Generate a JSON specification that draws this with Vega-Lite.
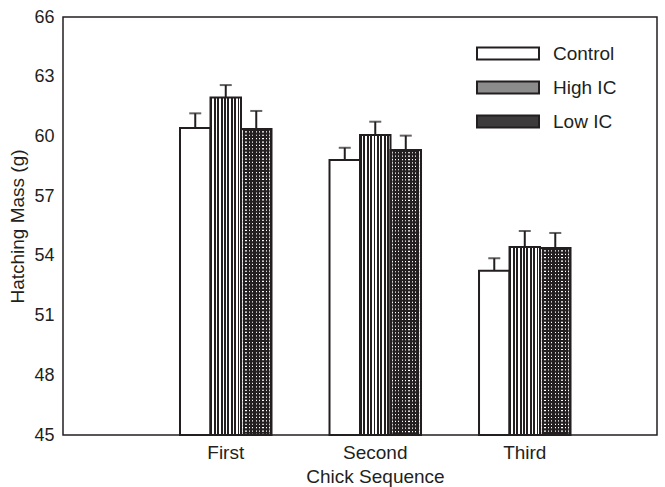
{
  "$schema": "https://vega.github.io/schema/vega-lite/v6.json",
  "width": 594,
  "height": 418,
  "autosize": {"type": "none"},
  "padding": {"left": 63, "top": 17, "right": 8, "bottom": 52},
  "background": "white",
  "config": {
    "font": "Liberation Sans",
    "view": {"stroke": "#231f20", "strokeWidth": 1.5},
    "axis": {
      "domain": false, "ticks": false, "tickSize": 0, "grid": false,
      "labelFont": "Liberation Sans", "labelFontSize": 18, "labelColor": "#231f20",
      "titleFont": "Liberation Sans", "titleFontSize": 19, "titleFontWeight": "normal", "titleColor": "#231f20"
    }
  },
  "data": {
    "values": [
      {"seq": "First", "group": "Control", "mean": 60.42, "upper": 61.16},
      {"seq": "First", "group": "High IC", "mean": 61.95, "upper": 62.58},
      {"seq": "First", "group": "Low IC", "mean": 60.37, "upper": 61.28},
      {"seq": "Second", "group": "Control", "mean": 58.82, "upper": 59.43},
      {"seq": "Second", "group": "High IC", "mean": 60.07, "upper": 60.74},
      {"seq": "Second", "group": "Low IC", "mean": 59.32, "upper": 60.04},
      {"seq": "Third", "group": "Control", "mean": 53.25, "upper": 53.88},
      {"seq": "Third", "group": "High IC", "mean": 54.44, "upper": 55.25},
      {"seq": "Third", "group": "Low IC", "mean": 54.39, "upper": 55.15}
    ]
  },
  "encoding": {
    "x": {
      "field": "seq", "type": "nominal", "sort": ["First", "Second", "Third"],
      "scale": {"paddingInner": 0.388, "paddingOuter": 0.6805, "align": 0.575},
      "axis": {"title": "Chick Sequence", "labelAngle": 0, "labelFontSize": 19, "labelPadding": 8, "titlePadding": 5, "titleX": 312, "titleAnchor": "start", "titleAlign": "center"}
    },
    "xOffset": {
      "field": "group", "type": "nominal", "sort": ["Control", "High IC", "Low IC"],
      "scale": {"paddingInner": 0, "paddingOuter": 0}
    }
  },
  "layer": [
    {
      "mark": {"type": "bar", "stroke": "#231f20", "strokeWidth": 2, "opacity": 1},
      "encoding": {
        "y": {
          "field": "mean", "type": "quantitative", "title": "Hatching Mass (g)",
          "scale": {"domain": [45, 66], "zero": false, "nice": false},
          "axis": {"values": [45, 48, 51, 54, 57, 60, 63, 66], "title": "Hatching Mass (g)", "labelPadding": 9, "titlePadding": 6}
        },
        "y2": {"datum": 45},
        "fill": {
          "field": "group", "type": "nominal", "sort": ["Control", "High IC", "Low IC"],
          "scale": {"domain": ["Control", "High IC", "Low IC"], "range": ["#ffffff", "#8c8c8c", "#3d3b3c"]},
          "condition": [
            {"test": "datum.group === 'High IC'", "value":
              {"gradient": "linear", "x1": 0, "y1": 0, "x2": 1, "y2": 0, "stops": [
                {"offset": 0, "color": "#231f20"}, {"offset": 0.0611, "color": "#231f20"}, {"offset": 0.0611, "color": "#ffffff"}, {"offset": 0.1111, "color": "#ffffff"},
                {"offset": 0.1111, "color": "#231f20"}, {"offset": 0.1722, "color": "#231f20"}, {"offset": 0.1722, "color": "#ffffff"}, {"offset": 0.2222, "color": "#ffffff"},
                {"offset": 0.2222, "color": "#231f20"}, {"offset": 0.2833, "color": "#231f20"}, {"offset": 0.2833, "color": "#ffffff"}, {"offset": 0.3333, "color": "#ffffff"},
                {"offset": 0.3333, "color": "#231f20"}, {"offset": 0.3944, "color": "#231f20"}, {"offset": 0.3944, "color": "#ffffff"}, {"offset": 0.4444, "color": "#ffffff"},
                {"offset": 0.4444, "color": "#231f20"}, {"offset": 0.5056, "color": "#231f20"}, {"offset": 0.5056, "color": "#ffffff"}, {"offset": 0.5556, "color": "#ffffff"},
                {"offset": 0.5556, "color": "#231f20"}, {"offset": 0.6167, "color": "#231f20"}, {"offset": 0.6167, "color": "#ffffff"}, {"offset": 0.6667, "color": "#ffffff"},
                {"offset": 0.6667, "color": "#231f20"}, {"offset": 0.7278, "color": "#231f20"}, {"offset": 0.7278, "color": "#ffffff"}, {"offset": 0.7778, "color": "#ffffff"},
                {"offset": 0.7778, "color": "#231f20"}, {"offset": 0.8389, "color": "#231f20"}, {"offset": 0.8389, "color": "#ffffff"}, {"offset": 0.8889, "color": "#ffffff"},
                {"offset": 0.8889, "color": "#231f20"}, {"offset": 0.95, "color": "#231f20"}, {"offset": 0.95, "color": "#ffffff"}, {"offset": 1, "color": "#ffffff"}
              ]}},
            {"test": "datum.group === 'Low IC'", "value":
              {"gradient": "linear", "x1": 0, "y1": 0, "x2": 1, "y2": 0, "stops": [
                {"offset": 0, "color": "#231f20"}, {"offset": 0.0333, "color": "#231f20"}, {"offset": 0.0333, "color": "#ffffff"}, {"offset": 0.0722, "color": "#ffffff"}, {"offset": 0.0722, "color": "#231f20"},
                {"offset": 0.1444, "color": "#231f20"}, {"offset": 0.1444, "color": "#ffffff"}, {"offset": 0.1833, "color": "#ffffff"}, {"offset": 0.1833, "color": "#231f20"},
                {"offset": 0.2556, "color": "#231f20"}, {"offset": 0.2556, "color": "#ffffff"}, {"offset": 0.2944, "color": "#ffffff"}, {"offset": 0.2944, "color": "#231f20"},
                {"offset": 0.3667, "color": "#231f20"}, {"offset": 0.3667, "color": "#ffffff"}, {"offset": 0.4056, "color": "#ffffff"}, {"offset": 0.4056, "color": "#231f20"},
                {"offset": 0.4778, "color": "#231f20"}, {"offset": 0.4778, "color": "#ffffff"}, {"offset": 0.5167, "color": "#ffffff"}, {"offset": 0.5167, "color": "#231f20"},
                {"offset": 0.5889, "color": "#231f20"}, {"offset": 0.5889, "color": "#ffffff"}, {"offset": 0.6278, "color": "#ffffff"}, {"offset": 0.6278, "color": "#231f20"},
                {"offset": 0.7, "color": "#231f20"}, {"offset": 0.7, "color": "#ffffff"}, {"offset": 0.7389, "color": "#ffffff"}, {"offset": 0.7389, "color": "#231f20"},
                {"offset": 0.8111, "color": "#231f20"}, {"offset": 0.8111, "color": "#ffffff"}, {"offset": 0.85, "color": "#ffffff"}, {"offset": 0.85, "color": "#231f20"},
                {"offset": 0.9222, "color": "#231f20"}, {"offset": 0.9222, "color": "#ffffff"}, {"offset": 0.9611, "color": "#ffffff"}, {"offset": 0.9611, "color": "#231f20"},
                {"offset": 1, "color": "#231f20"}
              ]}}
          ],
          "legend": {
            "orient": "none", "legendX": 435.5, "legendY": 27, "title": null,
            "symbolType": "M-6.2,-1.2H6.2V1.2H-6.2Z", "symbolSize": 100,
            "symbolStrokeColor": "#231f20", "symbolStrokeWidth": 2, "symbolOpacity": 1,
            "labelFont": "Liberation Sans", "labelFontSize": 19, "labelColor": "#231f20",
            "labelOffset": 35.5, "rowPadding": 13,
            "encode": {"symbols": {"update": {
              "stroke": {"value": "#231f20"},
              "strokeWidth": {"value": 2}
            }}}
          }
        }
      }
    },
    {
      "transform": [{"filter": "datum.group === 'Low IC'"}],
      "mark": {"type": "rule", "color": "#231f20", "strokeWidth": 27, "strokeDash": [2.2, 1.2]},
      "encoding": {
        "y": {"field": "mean", "type": "quantitative", "title": "Hatching Mass (g)"},
        "y2": {"datum": 45}
      }
    },
    {
      "mark": {"type": "rule", "color": "#231f20", "strokeWidth": 2},
      "encoding": {
        "y": {"field": "mean", "type": "quantitative", "title": "Hatching Mass (g)"},
        "y2": {"field": "upper"}
      }
    },
    {
      "mark": {"type": "tick", "color": "#231f20", "thickness": 2, "size": 12},
      "encoding": {
        "y": {"field": "upper", "type": "quantitative", "title": "Hatching Mass (g)"}
      }
    }
  ]
}
